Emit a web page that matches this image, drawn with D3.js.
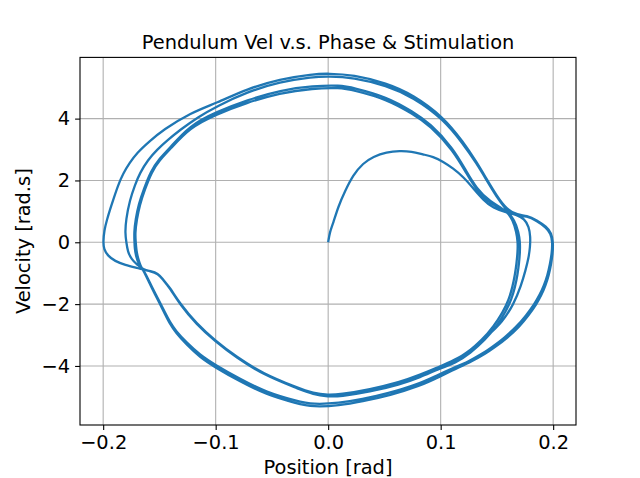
<!DOCTYPE html>
<html><head><meta charset="utf-8">
<script src="https://cdn.jsdelivr.net/npm/d3@7"></script>
<style>body{margin:0;background:#fff}svg{display:block}text{font-family:"DejaVu Sans",sans-serif;fill:#000}</style>
</head><body><svg id="c" width="640" height="478"></svg>
<script>
const titleText = "Pendulum Vel v.s. Phase & Stimulation";
const xLabelText = "Position [rad]";
const yLabelText = "Velocity [rad.s]";
const xTicks = [-0.2, -0.1, 0.0, 0.1, 0.2];
const yTicks = [-4, -2, 0, 2, 4];
const xDomain = [-0.2206, 0.2203];
const yDomain = [-5.91, 5.98];

// trajectory pieces [position, velocity], in the order they are traversed
const swingR1 = [[0,0],[0.0015,0.34],[0.0044,0.61],[0.0089,1.15],[0.0148,1.64],[0.0222,2.18],[0.0311,2.56],[0.04,2.77],[0.0519,2.92],[0.0637,2.96],[0.0741,2.94],[0.0844,2.84],[0.0933,2.77],[0.1022,2.61],[0.1111,2.39],[0.12,2.12],[0.1289,1.75],[0.1378,1.37],[0.1467,1.10],[0.1585,0.96],[0.167,0.90],[0.1745,0.76],[0.1785,0.50],[0.1798,0.18],[0.1795,-0.15],[0.1782,-0.50],[0.1755,-0.9],[0.1715,-1.4],[0.1650,-2.0],[0.1545,-2.6],[0.1425,-3.0],[0.1300,-3.38],[0.1160,-3.76],[0.1,-4.0],[0.0815,-4.29],[0.0637,-4.52],[0.037,-4.76],[0.0104,-4.92],[0,-4.94],[-0.013,-4.89],[-0.0281,-4.69],[-0.0578,-4.25],[-0.0814,-3.71],[-0.1007,-3.17],[-0.117,-2.63],[-0.1318,-1.98],[-0.1407,-1.46],[-0.1469,-1.2]];
const swingL1 = [[-0.1511,-1.0],[-0.1585,-0.93],[-0.1629,-0.90],[-0.1689,-0.84],[-0.1807,-0.73],[-0.1896,-0.61],[-0.1958,-0.44],[-0.1994,-0.22],[-0.2,0.01],[-0.199,0.40],[-0.1967,0.72],[-0.194,1.05],[-0.1911,1.37],[-0.1867,1.85],[-0.1822,2.23],[-0.1764,2.57],[-0.1703,2.88],[-0.1584,3.28],[-0.1469,3.63],[-0.1229,4.18],[-0.0989,4.51],[-0.0722,4.96],[-0.0429,5.28],[-0.0136,5.44],[0,5.46],[0.0222,5.42],[0.0519,5.15],[0.0756,4.77],[0.1022,4.06],[0.12,3.25],[0.1319,2.60],[0.1408,2.05],[0.1497,1.51],[0.1586,1.06]];
const swingR2 = [[0.1686,0.88],[0.1764,0.87],[0.1855,0.72],[0.1941,0.50],[0.1984,0.30],[0.2,0.0],[0.1996,-0.35],[0.1982,-0.7],[0.1962,-1.06],[0.1932,-1.4],[0.1897,-1.7],[0.1852,-2.0],[0.1785,-2.35],[0.170,-2.73],[0.159,-3.1],[0.148,-3.4],[0.140,-3.6],[0.128,-3.85],[0.113,-4.1],[0.1,-4.33],[0.0815,-4.65],[0.055,-4.95],[0.03,-5.15],[0.01,-5.28],[-0.0136,-5.33],[-0.0281,-5.21],[-0.0548,-4.93],[-0.0785,-4.50],[-0.1007,-4.04],[-0.114,-3.72],[-0.1259,-3.31],[-0.1354,-2.93],[-0.1407,-2.64],[-0.1451,-2.32],[-0.1496,-1.99],[-0.157,-1.46],[-0.162,-1.07],[-0.1656,-0.83]];
const swingL2 = [[-0.1665,-0.78],[-0.1690,-0.53],[-0.1705,-0.26],[-0.1711,0.01],[-0.1716,0.30],[-0.1702,0.72],[-0.1675,1.21],[-0.1631,1.69],[-0.1569,2.28],[-0.1498,2.66],[-0.1409,2.99],[-0.1231,3.71],[-0.0994,4.14],[-0.0727,4.51],[-0.0431,4.83],[-0.0135,4.98],[0.0104,5.0],[0.0222,4.92],[0.0519,4.63],[0.0756,4.14],[0.0904,3.78],[0.1111,2.98],[0.123,2.22],[0.1319,1.69],[0.1437,1.26],[0.1586,0.99]];
const swingR3 = [[0.1686,0.86],[0.1762,0.85],[0.1852,0.70],[0.1937,0.48],[0.1979,0.28],[0.1994,0.0],[0.1988,-0.35],[0.1972,-0.7],[0.1950,-1.06],[0.1918,-1.4],[0.1880,-1.7],[0.1833,-2.0],[0.1763,-2.35],[0.1675,-2.73],[0.1563,-3.1],[0.1453,-3.4],[0.1372,-3.6],[0.1252,-3.85],[0.1103,-4.08],[0.0975,-4.29],[0.0795,-4.60],[0.053,-4.89],[0.03,-5.08],[0.01,-5.2],[-0.0136,-5.25],[-0.0281,-5.13],[-0.0548,-4.85],[-0.0785,-4.42],[-0.1007,-3.96],[-0.114,-3.64],[-0.1259,-3.24],[-0.1354,-2.87],[-0.1407,-2.58],[-0.1451,-2.27],[-0.1496,-1.94],[-0.157,-1.42],[-0.162,-1.04],[-0.1656,-0.82]];
const swingL3 = [[-0.1685,-0.70],[-0.1708,-0.45],[-0.1720,-0.2],[-0.1722,0.05],[-0.1725,0.32],[-0.1712,0.74],[-0.1685,1.23],[-0.1640,1.71],[-0.1577,2.30],[-0.1505,2.69],[-0.1415,3.02],[-0.1232,3.78],[-0.0992,4.22],[-0.072,4.60],[-0.0425,4.92],[-0.013,5.06],[0.0104,5.08],[0.0222,5.0],[0.0519,4.71],[0.0756,4.22],[0.0904,3.85],[0.1111,3.05],[0.123,2.28],[0.1319,1.74],[0.1437,1.31],[0.1586,1.03]];
const swingR4 = [[0.1642,0.71],[0.1673,0.33],[0.1686,0.0],[0.1684,-0.31],[0.1675,-0.67],[0.166,-1.06],[0.1638,-1.45],[0.1607,-1.84],[0.1553,-2.26],[0.1473,-2.71],[0.1366,-3.17],[0.1242,-3.56],[0.1117,-3.85],[0.0993,-4.02],[0.0815,-4.32],[0.0637,-4.55],[0.037,-4.79],[0.0104,-4.95],[0,-4.97],[-0.013,-4.92],[-0.0281,-4.72],[-0.0578,-4.28],[-0.0814,-3.74],[-0.1007,-3.20],[-0.117,-2.66],[-0.1318,-2.01],[-0.1407,-1.48],[-0.1469,-1.21],[-0.1511,-1.02],[-0.1585,-0.93],[-0.1635,-0.90]];
const swingL4 = [[-0.1700,-0.72],[-0.1748,-0.55],[-0.1782,-0.30],[-0.1794,0.0],[-0.1805,0.30],[-0.1798,0.72],[-0.1763,1.37],[-0.1718,1.85],[-0.1674,2.24],[-0.1603,2.66],[-0.1523,2.99],[-0.1425,3.31],[-0.1318,3.63],[-0.1158,4.05],[-0.0989,4.40],[-0.0722,4.86],[-0.0429,5.19],[-0.0136,5.35],[0,5.37],[0.0222,5.33],[0.0519,5.07],[0.0756,4.69],[0.1022,3.99],[0.12,3.18],[0.1319,2.55],[0.1408,2.01],[0.1497,1.47],[0.1586,1.04]];
const swingR5 = [[0.1658,0.71],[0.1692,0.33],[0.1706,0.0],[0.1705,-0.31],[0.1697,-0.67],[0.1683,-1.06],[0.1661,-1.45],[0.163,-1.84],[0.1577,-2.26],[0.1498,-2.71],[0.1392,-3.17],[0.1265,-3.58],[0.1135,-3.9],[0.0993,-4.08],[0.0815,-4.37],[0.0637,-4.60],[0.037,-4.84],[0.0104,-4.99],[0,-4.99],[-0.013,-4.93],[-0.0281,-4.72]];

const trajectory = [].concat(swingR1, swingL1, swingR2, swingL2, swingR3, swingL3, swingR4, swingL4, swingR5);

const W = 640, H = 478;
const L = 80, R = 576, T = 57.4, B = 425;
const fs = "19.4px";
const svg = d3.select("#c");
svg.append("rect").attr("width", W).attr("height", H).attr("fill", "#fff");

const x = d3.scaleLinear().domain(xDomain).range([L, R]);
const y = d3.scaleLinear().domain(yDomain).range([B, T]);

// grid
const grid = svg.append("g");
grid.selectAll("line.gx").data(xTicks).enter().append("line")
  .attr("x1", d => x(d)).attr("x2", d => x(d)).attr("y1", T).attr("y2", B)
  .attr("stroke", "#b0b0b0").attr("stroke-width", 1.1);
grid.selectAll("line.gy").data(yTicks).enter().append("line")
  .attr("y1", d => y(d)).attr("y2", d => y(d)).attr("x1", L).attr("x2", R)
  .attr("stroke", "#b0b0b0").attr("stroke-width", 1.1);

// data line
const line = d3.line().x(d => x(d[0])).y(d => y(d[1])).curve(d3.curveBasis);
svg.append("path").datum(trajectory).attr("d", line)
  .attr("fill", "none").attr("stroke", "#1f77b4").attr("stroke-width", 2.3)
  .attr("stroke-linejoin", "round").attr("stroke-linecap", "butt");

// axes
const xa = svg.append("g").attr("transform", `translate(0,${B})`)
  .call(d3.axisBottom(x).tickValues(xTicks).tickFormat(d3.format(".1f")).tickSizeOuter(0).tickSize(4.9).tickPadding(4.9));
const ya = svg.append("g").attr("transform", `translate(${L},0)`)
  .call(d3.axisLeft(y).tickValues(yTicks).tickFormat(d3.format("d")).tickSizeOuter(0).tickSize(4.9).tickPadding(4.9));
[xa, ya].forEach(g => {
  g.select(".domain").remove();
  g.selectAll(".tick line").attr("stroke", "#000").attr("stroke-width", 1.1);
  g.selectAll(".tick text").attr("font-size", fs).attr("font-family", "DejaVu Sans").attr("fill", "#000");
});

// frame
svg.append("rect").attr("x", L).attr("y", T).attr("width", R - L).attr("height", B - T)
  .attr("fill", "none").attr("stroke", "#000").attr("stroke-width", 1.1);

// texts
svg.append("text").attr("x", (L + R) / 2).attr("y", 49).attr("text-anchor", "middle")
  .attr("font-size", fs).text(titleText);
svg.append("text").attr("x", (L + R) / 2).attr("y", 474).attr("text-anchor", "middle")
  .attr("font-size", fs).text(xLabelText);
svg.append("text").attr("transform", `translate(30,${(T + B) / 2}) rotate(-90)`).attr("text-anchor", "middle")
  .attr("font-size", fs).text(yLabelText);
</script></body></html>
